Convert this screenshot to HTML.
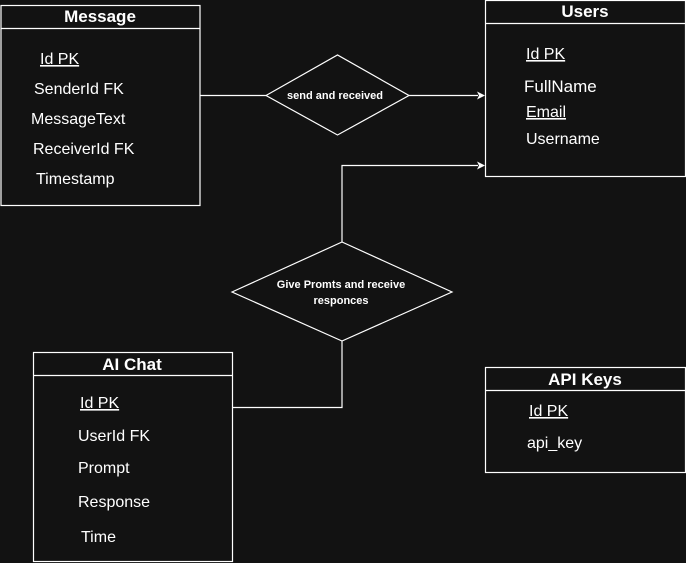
<!DOCTYPE html>
<html><head><style>body{margin:0;background:#121212}svg{display:block}</style></head><body>
<svg width="686" height="563" xmlns="http://www.w3.org/2000/svg" font-family="Liberation Sans, Arial, sans-serif" fill="#fff">
<rect width="686" height="563" fill="#121212"/>
<g stroke="#fff" stroke-width="1.2" fill="none">
<rect x="1" y="5.5" width="199" height="200"/><line x1="1" y1="28.5" x2="200" y2="28.5"/>
<rect x="485.5" y="0.5" width="200" height="176"/><line x1="485.5" y1="23.5" x2="686" y2="23.5"/>
<rect x="33.5" y="352.5" width="199" height="209"/><line x1="33.5" y1="375.5" x2="232.5" y2="375.5"/>
<rect x="485.5" y="367.5" width="200" height="105"/><line x1="485.5" y1="390.5" x2="686" y2="390.5"/>
<polygon points="266,95.5 337.5,55 409,95.5 337.5,135"/>
<polygon points="232,292 342,242 452,292 342,341"/>
<polyline points="200,95.5 266,95.5"/>
<polyline points="409,95.5 478,95.5"/>
<polyline points="342,242 342,165.5 478,165.5"/>
<polyline points="342,341 342,407.5 233,407.5"/>
</g>
<polygon points="485,95.5 477,91.5 479,95.5 477,99.5" fill="#fff"/>
<polygon points="485,165.5 477,161.5 479,165.5 477,169.5" fill="#fff"/>
<g font-weight="bold" font-size="17" text-anchor="middle">
<text x="100" y="22">Message</text>
<text x="585" y="17">Users</text>
<text x="132" y="370">AI Chat</text>
<text x="585" y="385">API Keys</text>
</g>
<g font-size="16">
<text x="40" y="64" text-decoration="underline">Id PK</text>
<text x="34" y="94">SenderId FK</text>
<text x="31" y="124">MessageText</text>
<text x="33" y="154">ReceiverId FK</text>
<text x="36" y="184">Timestamp</text>
<text x="526" y="59" text-decoration="underline">Id PK</text>
<text x="524" y="92" font-size="17">FullName</text>
<text x="526" y="117" text-decoration="underline">Email</text>
<text x="526" y="144">Username</text>
<text x="80" y="408" text-decoration="underline">Id PK</text>
<text x="78" y="441">UserId FK</text>
<text x="78" y="473">Prompt</text>
<text x="78" y="507">Response</text>
<text x="81" y="542">Time</text>
<text x="529" y="416" text-decoration="underline">Id PK</text>
<text x="527" y="448">api_key</text>
</g>
<g font-size="11" font-weight="bold" text-anchor="middle">
<text x="335" y="99">send and received</text>
<text x="341" y="288">Give Promts and receive</text>
<text x="341" y="304">responces</text>
</g>
</svg>
</body></html>
